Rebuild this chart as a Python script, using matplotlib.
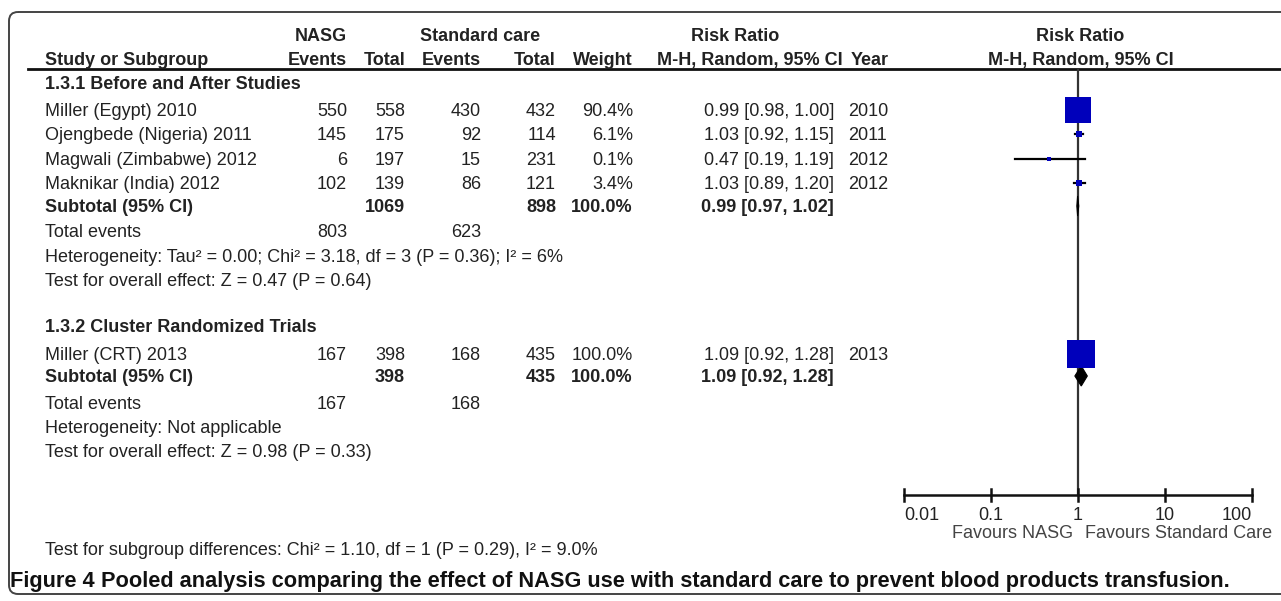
import matplotlib
matplotlib.use("Agg")
import matplotlib.pyplot as plt
from matplotlib.patches import FancyBboxPatch, Polygon

# ── data ──────────────────────────────────────────────────────────
studies = ["Miller (Egypt) 2010", "Ojengbede (Nigeria) 2011",
           "Magwali (Zimbabwe) 2012", "Maknikar (India) 2012",
           "Miller (CRT) 2013"]
nasg_events = [550, 145, 6, 102, 167]
nasg_total = [558, 175, 197, 139, 398]
std_events = [430, 92, 15, 86, 168]
std_total = [432, 114, 231, 121, 435]
weights = [90.4, 6.1, 0.1, 3.4, 100.0]
rr = [0.99, 1.03, 0.47, 1.03, 1.09]
rr_lo = [0.98, 0.92, 0.19, 0.89, 0.92]
rr_hi = [1.00, 1.15, 1.19, 1.20, 1.28]
years = [2010, 2011, 2012, 2012, 2013]

groups = ["1.3.1 Before and After Studies", "1.3.2 Cluster Randomized Trials"]
sub_nasg_total = [1069, 398]
sub_std_total = [898, 435]
sub_rr = [0.99, 1.09]
sub_lo = [0.97, 0.92]
sub_hi = [1.02, 1.28]
tot_nasg_events = [803, 167]
tot_std_events = [623, 168]
heterogeneity = ["Heterogeneity: Tau² = 0.00; Chi² = 3.18, df = 3 (P = 0.36); I² = 6%",
                 "Heterogeneity: Not applicable"]
overall = ["Test for overall effect: Z = 0.47 (P = 0.64)",
           "Test for overall effect: Z = 0.98 (P = 0.33)"]
subgroup_test = "Test for subgroup differences: Chi² = 1.10, df = 1 (P = 0.29), I² = 9.0%"
caption_bold = "Figure 4"
caption_rest = " Pooled analysis comparing the effect of NASG use with standard care to prevent blood products transfusion."

axis_ticks = [0.01, 0.1, 1, 10, 100]
axis_labels = ["0.01", "0.1", "1", "10", "100"]

# ── layout (pixel coordinates) ────────────────────────────────────
W, H = 1281, 601
plt.rcParams["font.family"] = ["Liberation Sans", "DejaVu Sans"]
TXT = "#222222"
FS = 13.0
DY = 1.5   # va="center" sits a touch high, nudge text down

fig = plt.figure(figsize=(W / 100, H / 100), dpi=100)
ax = fig.add_axes([0, 0, 1, 1])
ax.set_xlim(0, W)
ax.set_ylim(H, 0)
ax.axis("off")

# forest plot axes: 0.01 -> px 904, 100 -> px 1252, same vertical pixel scale
FX0, FX1 = 904, 1252
fa = fig.add_axes([FX0 / W, 0, (FX1 - FX0) / W, 1])
fa.set_xscale("log")
fa.set_xlim(0.01, 100)
fa.set_ylim(H, 0)
fa.axis("off")


def T(x, y, s, ha="left", bold=False, fs=FS, color=TXT):
    ax.text(x, y + DY, s, ha=ha, va="center", fontsize=fs, color=color,
            fontweight="bold" if bold else "normal")


# border
ax.add_patch(FancyBboxPatch((9, 12), 1300, 582,
                            boxstyle="round,pad=0,rounding_size=9",
                            facecolor="none", edgecolor="#444444", lw=1.4,
                            clip_on=False))

# headers
T(321, 35, "NASG", ha="center", bold=True)
T(480, 35, "Standard care", ha="center", bold=True)
T(735, 35, "Risk Ratio", ha="center", bold=True)
T(1080, 35, "Risk Ratio", ha="center", bold=True)
T(45, 59, "Study or Subgroup", bold=True)
T(347, 59, "Events", ha="right", bold=True)
T(405, 59, "Total", ha="right", bold=True)
T(481, 59, "Events", ha="right", bold=True)
T(556, 59, "Total", ha="right", bold=True)
T(633, 59, "Weight", ha="right", bold=True)
T(843, 59, "M-H, Random, 95% CI", ha="right", bold=True)
T(851, 59, "Year", bold=True)
T(1081, 59, "M-H, Random, 95% CI", ha="center", bold=True)
ax.plot([28, W], [69, 69], color="#111111", lw=2)

# rows
group_title_y = [83, 326]
study_y = [110, 134, 159, 183, 354]
sub_y = [206, 376]
tot_y = [231, 403]
het_y = [256, 427]
ovr_y = [280, 451]

for g in range(2):
    T(45, group_title_y[g], groups[g], bold=True)
    T(45, sub_y[g], "Subtotal (95% CI)", bold=True)
    T(405, sub_y[g], str(sub_nasg_total[g]), ha="right", bold=True)
    T(556, sub_y[g], str(sub_std_total[g]), ha="right", bold=True)
    T(633, sub_y[g], "100.0%", ha="right", bold=True)
    T(834, sub_y[g], f"{sub_rr[g]:.2f} [{sub_lo[g]:.2f}, {sub_hi[g]:.2f}]",
      ha="right", bold=True)
    T(45, tot_y[g], "Total events")
    T(347, tot_y[g], str(tot_nasg_events[g]), ha="right")
    T(481, tot_y[g], str(tot_std_events[g]), ha="right")
    T(45, het_y[g], heterogeneity[g])
    T(45, ovr_y[g], overall[g])
    # diamond
    y, h = sub_y[g], 20
    fa.add_patch(Polygon([(sub_lo[g], y), (sub_rr[g], y - h / 2),
                          (sub_hi[g], y), (sub_rr[g], y + h / 2)],
                         closed=True, facecolor="black", edgecolor="black",
                         lw=0.8, zorder=4))

for i, name in enumerate(studies):
    y = study_y[i]
    T(45, y, name)
    T(347, y, str(nasg_events[i]), ha="right")
    T(405, y, str(nasg_total[i]), ha="right")
    T(481, y, str(std_events[i]), ha="right")
    T(556, y, str(std_total[i]), ha="right")
    T(633, y, f"{weights[i]:.1f}%", ha="right")
    T(834, y, f"{rr[i]:.2f} [{rr_lo[i]:.2f}, {rr_hi[i]:.2f}]", ha="right")
    T(848, y, str(years[i]))
    # CI line and square (area ~ weight)
    fa.plot([rr_lo[i], rr_hi[i]], [y, y], color="black", lw=1.6, zorder=3)
    side_px = max(3.5, 28 * (weights[i] / 100) ** 0.5)
    fa.plot([rr[i]], [y], marker="s", color="#0000BB", markeredgewidth=0,
            markersize=side_px * 0.72, zorder=5)

# null line and axis
fa.plot([1, 1], [70, 495], color="#333333", lw=1.6, zorder=2)
fa.plot([0.01, 100], [495, 495], color="#111111", lw=1.8, clip_on=False)
tick_ha = ["left", "center", "center", "center", "right"]
for t, lab, ha in zip(axis_ticks, axis_labels, tick_ha):
    fa.plot([t, t], [489, 501], color="#111111", lw=1.8, clip_on=False)
    fa.text(t, 515, lab, ha=ha, va="center", fontsize=FS, color=TXT)
fa.text(0.876, 534, "Favours NASG", ha="right", va="center",
        fontsize=FS, color="#444444")
fa.text(1.20, 534, "Favours Standard Care", ha="left", va="center",
        fontsize=FS, color="#444444", clip_on=False)

T(45, 549, subgroup_test)

# caption
cap = ax.text(10, 581, caption_bold, ha="left", va="center", fontsize=15.7,
              fontweight="bold", color="#111111")
fig.canvas.draw()
bb = cap.get_window_extent()
x_end = ax.transData.inverted().transform((bb.x1, bb.y0))[0]
ax.text(x_end, 581, caption_rest, ha="left", va="center", fontsize=15.7,
        fontweight="bold", color="#111111")

fig.savefig("out.png", dpi=100, facecolor="white")
